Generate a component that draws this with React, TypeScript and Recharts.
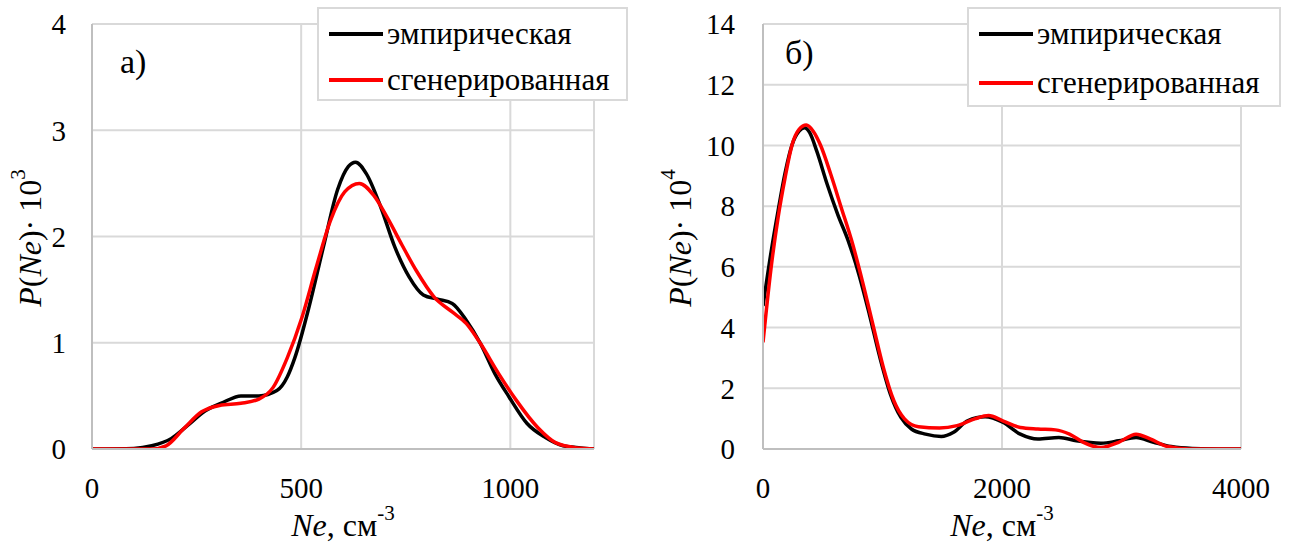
import React from 'react';
import { LineChart, Line, XAxis, YAxis, CartesianGrid } from 'recharts';

// ---- Panel a) data (P·10^3 vs Ne) ----
const aEmpX = [0, 100, 143, 190, 228, 271, 314, 356, 399, 442, 467, 485, 519, 553, 587, 613, 630, 656, 690, 724, 758, 792, 826, 861, 895, 929, 963, 997, 1040, 1083, 1126, 1168, 1200];
const aEmpY = [0, 0.005, 0.03, 0.1, 0.22, 0.36, 0.44, 0.5, 0.5, 0.55, 0.68, 0.86, 1.34, 1.9, 2.44, 2.66, 2.7, 2.59, 2.28, 1.9, 1.62, 1.45, 1.41, 1.37, 1.21, 0.99, 0.71, 0.49, 0.24, 0.11, 0.03, 0.01, 0];
const aGenX = [0, 143, 177, 219, 262, 305, 356, 399, 433, 467, 502, 536, 570, 604, 639, 673, 707, 741, 775, 818, 861, 895, 929, 972, 1014, 1066, 1108, 1160, 1200];
const aGenY = [0, 0, 0.03, 0.19, 0.35, 0.41, 0.43, 0.47, 0.58, 0.86, 1.24, 1.71, 2.15, 2.42, 2.5, 2.39, 2.17, 1.92, 1.68, 1.43, 1.29, 1.18, 0.99, 0.71, 0.46, 0.2, 0.06, 0.01, 0];
const aXTicks = [0, 500, 1000];
const aYTicks = [0, 1, 2, 3, 4];

// ---- Panel б) data (P·10^4 vs Ne) ----
const bEmpX = [0, 68, 126, 185, 244, 302, 347, 391, 450, 537, 625, 714, 802, 890, 978, 1066, 1154, 1242, 1360, 1492, 1595, 1712, 1859, 2006, 2153, 2300, 2476, 2623, 2828, 2975, 3122, 3269, 3416, 3592, 4000];
const bEmpY = [4.71, 6.5, 7.84, 9.1, 10.03, 10.47, 10.58, 10.42, 9.81, 8.72, 7.73, 6.85, 5.76, 4.44, 3.02, 1.81, 1.04, 0.66, 0.49, 0.41, 0.55, 0.93, 1.06, 0.88, 0.49, 0.33, 0.38, 0.27, 0.19, 0.27, 0.38, 0.22, 0.08, 0.02, 0];
const bGenX = [0, 68, 126, 185, 244, 302, 362, 420, 479, 567, 655, 743, 831, 919, 1007, 1095, 1184, 1301, 1477, 1624, 1771, 1888, 2006, 2153, 2300, 2447, 2565, 2682, 2828, 2975, 3122, 3240, 3387, 3563, 4000];
const bGenY = [3.51, 5.98, 7.62, 8.94, 10.03, 10.53, 10.67, 10.47, 10.03, 9.05, 7.95, 6.85, 5.54, 4.11, 2.69, 1.59, 0.99, 0.73, 0.69, 0.77, 0.99, 1.1, 0.93, 0.71, 0.66, 0.63, 0.49, 0.22, 0.05, 0.22, 0.49, 0.33, 0.08, 0, 0];
const bXTicks = [0, 2000, 4000];
const bYTicks = [0, 2, 4, 6, 8, 10, 12, 14];

const seriesNames = ['эмпирическая', 'сгенерированная'];
const seriesColors = ['#000000', '#ff0000'];

const zip = (xs: number[], ys: number[]) => xs.map((x, i) => ({ x, y: ys[i] }));

const FONT = "'Liberation Serif', 'Times New Roman', Tinos, 'DejaVu Serif', serif";
const GRID = '#d9d9d9';
const AXIS = '#bfbfbf';

const LegendBox = ({ left, width, height, rowGap }: { left: number; width: number; height: number; rowGap: number }) => (
  <div
    style={{
      position: 'absolute',
      left,
      top: 7,
      width,
      height,
      boxSizing: 'border-box',
      border: `2px solid ${GRID}`,
      background: '#fff',
      fontFamily: FONT,
      fontSize: 31,
      color: '#000',
    }}
  >
    {seriesNames.map((name, i) => (
      <div
        key={name}
        style={{
          position: 'absolute',
          left: 10,
          top: 25 + i * rowGap - 20,
          height: 40,
          display: 'flex',
          alignItems: 'center',
          whiteSpace: 'nowrap',
        }}
      >
        <span style={{ display: 'inline-block', width: 54, height: 4, background: seriesColors[i], marginRight: 4 }} />
        <span style={{ lineHeight: '40px' }}>{name}</span>
      </div>
    ))}
  </div>
);

interface PanelProps {
  empX: number[];
  empY: number[];
  genX: number[];
  genY: number[];
  xTicks: number[];
  yTicks: number[];
  xMax: number;
  yMax: number;
  width: number;
  yAxisWidth: number;
  marginRight: number;
  tickMargin: number;
}

const Panel = (p: PanelProps) => (
  <LineChart width={p.width} height={550} margin={{ top: 24, right: p.marginRight, bottom: 61, left: 0 }}>
    <CartesianGrid stroke={GRID} strokeWidth={2} />
    <XAxis
      type="number"
      dataKey="x"
      domain={[0, p.xMax]}
      ticks={p.xTicks}
      allowDataOverflow
      height={40}
      tickSize={0}
      tickMargin={28}
      tickLine={false}
      axisLine={{ stroke: AXIS, strokeWidth: 2 }}
      tick={{ fill: '#000', fontSize: 29, fontFamily: FONT }}
      interval={0}
    />
    <YAxis
      type="number"
      dataKey="y"
      domain={[0, p.yMax]}
      ticks={p.yTicks}
      allowDataOverflow
      width={p.yAxisWidth}
      tickSize={0}
      tickMargin={p.tickMargin}
      tickLine={false}
      axisLine={{ stroke: AXIS, strokeWidth: 2 }}
      tick={{ fill: '#000', fontSize: 29, fontFamily: FONT }}
      interval={0}
    />
    <Line
      data={zip(p.empX, p.empY)}
      dataKey="y"
      name={seriesNames[0]}
      type="monotone"
      stroke={seriesColors[0]}
      strokeWidth={3.5}
      dot={false}
      activeDot={false}
      isAnimationActive={false}
    />
    <Line
      data={zip(p.genX, p.genY)}
      dataKey="y"
      name={seriesNames[1]}
      type="monotone"
      stroke={seriesColors[1]}
      strokeWidth={3.5}
      dot={false}
      activeDot={false}
      isAnimationActive={false}
    />
  </LineChart>
);

const textStyle: React.CSSProperties = {
  position: 'absolute',
  fontFamily: FONT,
  fontSize: 32,
  color: '#000',
  whiteSpace: 'nowrap',
  lineHeight: '32px',
};

const supStyle: React.CSSProperties = { fontSize: 21, verticalAlign: 'top', lineHeight: '21px', position: 'relative', top: -6 };

const YTitle = ({ cx, cy, pow }: { cx: number; cy: number; pow: string }) => (
  <div style={{ ...textStyle, left: cx, top: cy, transform: 'translate(-50%, -50%) rotate(-90deg)' }}>
    <i>P</i>(<i>Ne</i>)· 10<sup style={supStyle}>{pow}</sup>
  </div>
);

const XTitle = ({ cx, cy }: { cx: number; cy: number }) => (
  <div style={{ ...textStyle, left: cx, top: cy, transform: 'translate(-50%, -50%)' }}>
    <i>Ne</i>, см<sup style={supStyle}>-3</sup>
  </div>
);

export default function App() {
  return (
    <div style={{ position: 'absolute', left: 0, top: 0, width: 1290, height: 550, background: '#fff', overflow: 'hidden' }}>
      <div style={{ position: 'absolute', left: 0, top: 0 }}>
        <Panel
          empX={aEmpX}
          empY={aEmpY}
          genX={aGenX}
          genY={aGenY}
          xTicks={aXTicks}
          yTicks={aYTicks}
          xMax={1200}
          yMax={4}
          width={640}
          yAxisWidth={92}
          marginRight={46}
          tickMargin={26}
        />
      </div>
      <div style={{ position: 'absolute', left: 640, top: 0 }}>
        <Panel
          empX={bEmpX}
          empY={bEmpY}
          genX={bGenX}
          genY={bGenY}
          xTicks={bXTicks}
          yTicks={bYTicks}
          xMax={4000}
          yMax={14}
          width={650}
          yAxisWidth={123}
          marginRight={49}
          tickMargin={28}
        />
      </div>
      <LegendBox left={317} width={311} height={94} rowGap={46} />
      <LegendBox left={967} width={314} height={100} rowGap={49} />
      <div style={{ ...textStyle, fontSize: 34, lineHeight: '34px', left: 120, top: 45 }}>a)</div>
      <div style={{ ...textStyle, fontSize: 34, lineHeight: '34px', left: 785, top: 36 }}>б)</div>
      <YTitle cx={30} cy={238} pow="3" />
      <YTitle cx={680} cy={238} pow="4" />
      <XTitle cx={343} cy={525} />
      <XTitle cx={1002} cy={525} />
    </div>
  );
}
